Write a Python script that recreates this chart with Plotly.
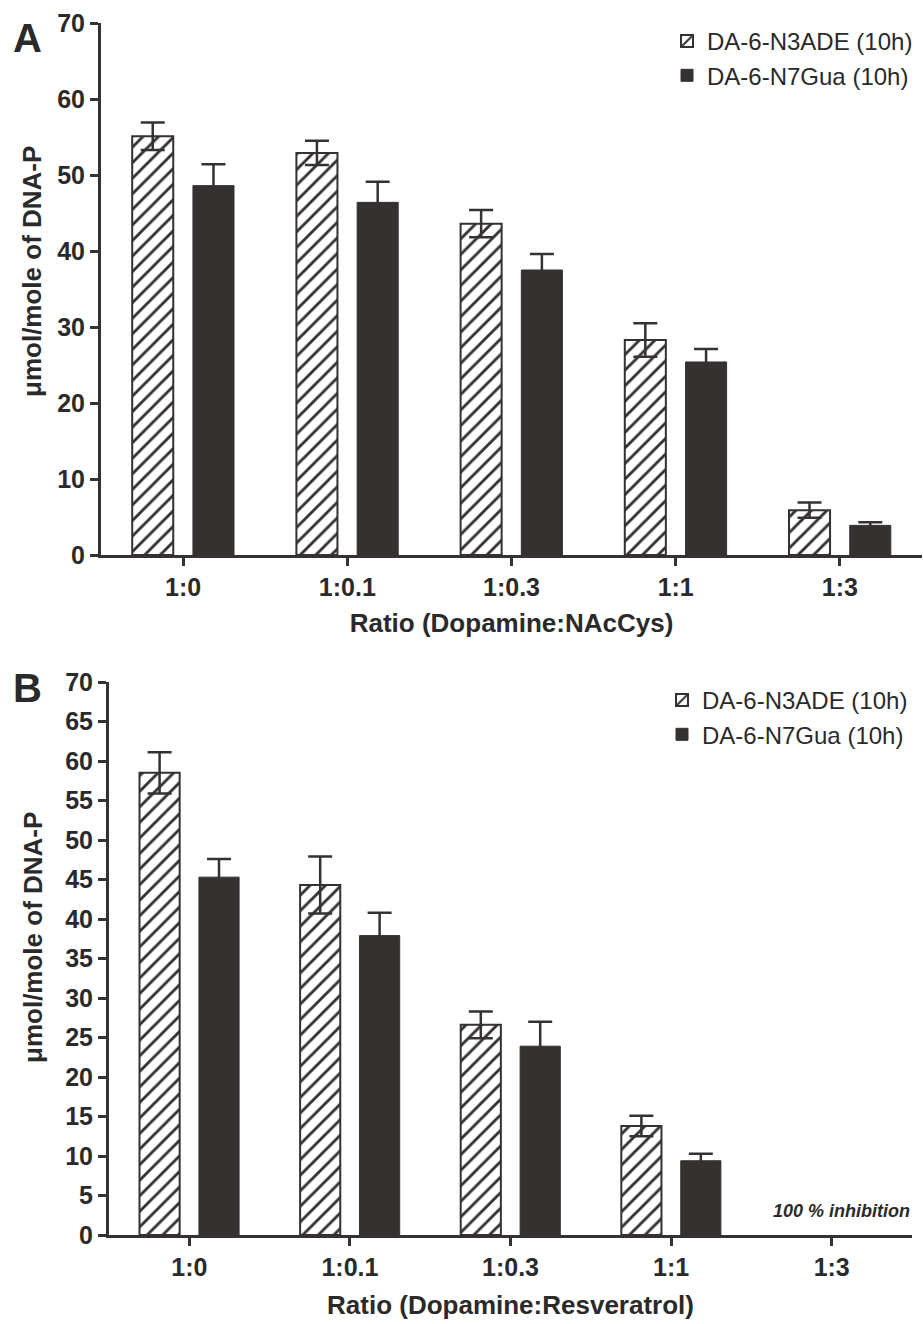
import plotly.graph_objects as go

# ---------------- data ----------------
ratios = ["1:0", "1:0.1", "1:0.3", "1:1", "1:3"]

# Panel A: Dopamine : NAcCys
a_n3ade = [55.1, 52.9, 43.6, 28.3, 5.9]
a_n3ade_err = [1.8, 1.6, 1.8, 2.2, 1.0]
a_n7gua = [48.6, 46.4, 37.5, 25.4, 3.9]
a_n7gua_err = [2.8, 2.7, 2.1, 1.7, 0.4]

# Panel B: Dopamine : Resveratrol (1:3 -> 100 % inhibition, nothing detected)
b_n3ade = [58.5, 44.3, 26.6, 13.8, 0]
b_n3ade_err = [2.6, 3.6, 1.7, 1.3, 0]
b_n7gua = [45.3, 37.9, 23.9, 9.4, 0]
b_n7gua_err = [2.3, 2.9, 3.1, 0.9, 0]

series_names = ["DA-6-N3ADE (10h)", "DA-6-N7Gua (10h)"]

# ---------------- style ----------------
DARK = "#353131"
TXT = "#2a2a2a"
FONT = "Liberation Sans, Arial, sans-serif"
W, H = 923, 1324

fig = go.Figure()


def detected(vals, errs):
    keep = [i for i, v in enumerate(vals) if v > 0]
    return ([ratios[i] for i in keep], [vals[i] for i in keep], [errs[i] for i in keep])


def add_panel(n3, n3e, n7, n7e, xa, ya, legend):
    x3, y3, e3 = detected(n3, n3e)
    x7, y7, e7 = detected(n7, n7e)
    fig.add_trace(go.Bar(
        x=x3, y=y3, name=series_names[0], xaxis=xa, yaxis=ya, legend=legend,
        width=0.25, offset=-0.31,
        marker=dict(color="white",
                    pattern=dict(shape="/", fgcolor=DARK, fgopacity=1, bgcolor="white",
                                 size=11, solidity=0.26),
                    line=dict(color=DARK, width=2)),
        error_y=dict(type="data", array=e3, visible=True, color=DARK, thickness=2.5, width=12),
    ))
    fig.add_trace(go.Bar(
        x=x7, y=y7, name=series_names[1], xaxis=xa, yaxis=ya, legend=legend,
        width=0.25, offset=0.06,
        marker=dict(color=DARK, line=dict(color=DARK, width=1)),
        error_y=dict(type="data", array=e7, visible=True, color=DARK, thickness=2.5, width=12),
    ))


add_panel(a_n3ade, a_n3ade_err, a_n7gua, a_n7gua_err, "x", "y", "legend")
add_panel(b_n3ade, b_n3ade_err, b_n7gua, b_n7gua_err, "x2", "y2", "legend2")

common_x = dict(type="category", categoryorder="array", categoryarray=ratios,
                range=[-0.5, 4.5], showline=True, linewidth=3, linecolor=DARK,
                ticks="outside", ticklen=8, tickwidth=2.5, tickcolor=DARK,
                showgrid=False, zeroline=False, automargin=False,
                tickfont=dict(family=FONT, size=25, color=TXT, weight="bold"),
                title_font=dict(family=FONT, size=26, color=TXT, weight="bold"))
common_y = dict(range=[0, 70], showline=True, linewidth=3, linecolor=DARK,
                ticks="outside", ticklen=8, tickwidth=2.5, tickcolor=DARK,
                showgrid=False, zeroline=False, automargin=False,
                tickfont=dict(family=FONT, size=25, color=TXT, weight="bold"))

leg_font = dict(family=FONT, size=24, color=TXT)

fig.update_layout(
    width=W, height=H,
    margin=dict(l=0, r=0, t=0, b=0, autoexpand=False),
    paper_bgcolor="white", plot_bgcolor="white",
    barmode="overlay",
    font=dict(family=FONT, color=TXT),
    xaxis=dict(**common_x, domain=[101 / W, 922 / W], anchor="y",
               title=dict(text="Ratio (Dopamine:NAcCys)", standoff=14)),
    yaxis=dict(**common_y, domain=[1 - 555 / H, 1 - 23 / H], anchor="x", dtick=10),
    xaxis2=dict(**common_x, domain=[109 / W, 912 / W], anchor="y2",
                title=dict(text="Ratio (Dopamine:Resveratrol)", standoff=16)),
    yaxis2=dict(**common_y, domain=[1 - 1235 / H, 1 - 682 / H], anchor="x2", dtick=5),
    legend=dict(x=918 / W, xanchor="right", y=1 - 19 / H, yanchor="top",
                font=leg_font, bgcolor="rgba(0,0,0,0)", tracegroupgap=0, itemwidth=30),
    legend2=dict(x=913 / W, xanchor="right", y=1 - 678 / H, yanchor="top",
                 font=leg_font, bgcolor="rgba(0,0,0,0)", tracegroupgap=0, itemwidth=30),
    annotations=[
        dict(text="μmol/mole of DNA-P", x=32 / W, y=1 - 272 / H, xref="paper", yref="paper",
             textangle=-90, showarrow=False, xanchor="center", yanchor="middle",
             font=dict(family=FONT, size=26, color=TXT, weight="bold")),
        dict(text="μmol/mole of DNA-P", x=33 / W, y=1 - 938 / H, xref="paper", yref="paper",
             textangle=-90, showarrow=False, xanchor="center", yanchor="middle",
             font=dict(family=FONT, size=26, color=TXT, weight="bold")),
        dict(text="A", x=27 / W, y=1 - 38 / H, xref="paper", yref="paper", showarrow=False,
             xanchor="center", yanchor="middle",
             font=dict(family=FONT, size=40, color=TXT, weight="bold")),
        dict(text="B", x=27 / W, y=1 - 688 / H, xref="paper", yref="paper", showarrow=False,
             xanchor="center", yanchor="middle",
             font=dict(family=FONT, size=40, color=TXT, weight="bold")),
        dict(text="100 % inhibition", x=912 / W, y=1 - 1211 / H, xref="paper", yref="paper",
             showarrow=False, xanchor="right", yanchor="middle",
             font=dict(family=FONT, size=18, color=TXT, weight="bold", style="italic")),
    ],
)

fig.write_html("out.html", config={"displayModeBar": False},
               post_script="document.body.style.margin='0';document.body.style.overflow='hidden';")
